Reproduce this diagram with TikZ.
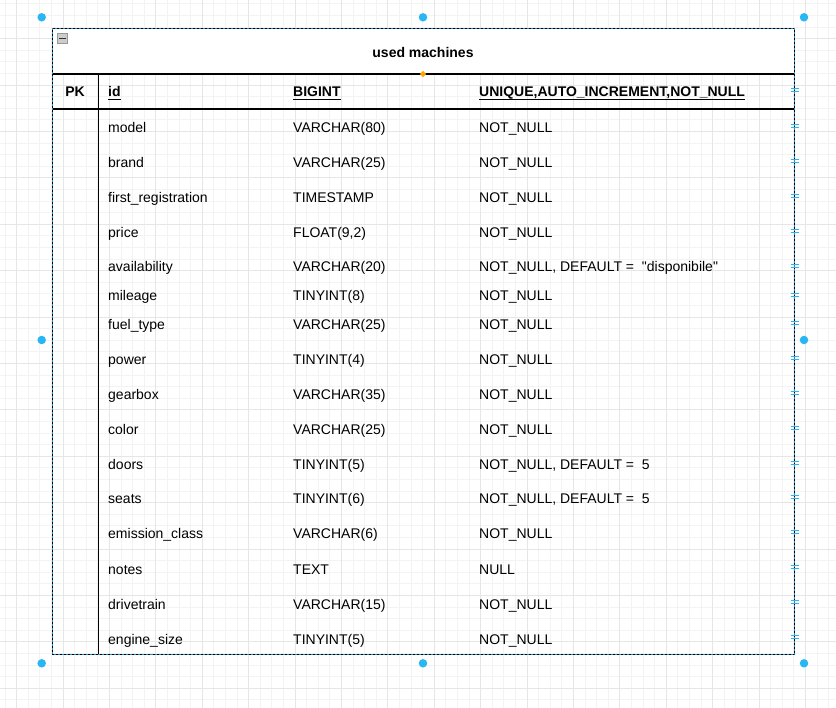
\documentclass[tikz,border=0pt]{standalone}
\usepackage{fontspec}
\setmainfont{Liberation Sans}
\definecolor{gridlo}{HTML}{F3F3F3}
\definecolor{gridhi}{HTML}{E6E6E6}
\definecolor{handleblue}{HTML}{29B6F2}
\definecolor{selblue}{HTML}{2A8FC8}
\definecolor{pinorange}{HTML}{FFA500}
\begin{document}
\begin{tikzpicture}[x=1pt,y=-1pt,
  gridminor/.style={draw=gridlo,line width=1pt},
  gridmajor/.style={draw=gridhi,line width=1pt},
  rule/.style={draw=black,line width=1.3pt},
  cell/.style={anchor=west,inner sep=0pt,text height=12pt,text depth=0pt,
    font=\fontsize{14}{16}\selectfont},
  headcell/.style={cell,font=\fontsize{14}{16}\selectfont\bfseries},
  ulline/.style={draw=black,line width=1.3pt},
  handlept/.style={circle,fill=handleblue,draw=none,inner sep=0pt,minimum size=8.5pt},
  rowmark/.style={draw=handleblue,line width=1pt}]
\useasboundingbox (0,0) rectangle (836,708);
\fill[white] (0,0) rectangle (836,708);

% background grid
\foreach \i in {0,...,71} {
  \pgfmathsetmacro\gx{5.1+11.6*\i}
  \draw[gridminor] (\gx,0) -- (\gx,708);
}
\foreach \j in {0,...,60} {
  \pgfmathsetmacro\gy{3.9+11.6*\j}
  \draw[gridminor] (0,\gy) -- (836,\gy);
}
\foreach \k in {0,...,17} {
  \pgfmathsetmacro\gx{16.7+46.4*\k}
  \draw[gridmajor] (\gx,0) -- (\gx,708);
}
\foreach \k in {0,...,14} {
  \pgfmathsetmacro\gy{38.7+46.4*\k}
  \draw[gridmajor] (0,\gy) -- (836,\gy);
}

% table outline corners
\coordinate (tl) at (52.5,28.5);
\coordinate (tr) at (794.5,28.5);
\coordinate (bl) at (52.5,654.5);
\coordinate (br) at (794.5,654.5);
\coordinate (hl) at (52.5,74);
\coordinate (hr) at (794.5,74);
\coordinate (rl) at (52.5,109);
\coordinate (rr) at (794.5,109);
\coordinate (vt) at (98.7,74);
\coordinate (vb) at (98.7,654.5);

% title band
\fill[white] (tl) rectangle (hr);

% collapse icon
\node[draw=gray!80,fill=gray!40,line width=1pt,minimum size=10.5pt,inner sep=0pt] (collapse) at (62.3,38.5) {};
\draw[black!80,line width=1.4pt] ([xshift=2.3pt]collapse.west) -- ([xshift=-2.3pt]collapse.east);

% title
\node[cell,anchor=center,font=\fontsize{14}{16}\selectfont\bfseries] (title) at (423,51.3) {used machines};

% separators
\draw[rule] (hl) -- (hr);
\draw[rule] (rl) -- (rr);
\draw[rule] (vt) -- (vb);

% key row
\node[headcell,anchor=center] (pk) at (75,91) {PK};
\node[headcell] (hid) at (108,91) {id};
\node[headcell] (htype) at (293,91) {BIGINT};
\node[headcell] (hcons) at (479,91) {UNIQUE,AUTO\_INCREMENT,NOT\_NULL};
\foreach \h in {hid,htype,hcons}
  \draw[ulline] ([yshift=-2.5pt]\h.south west) -- ([yshift=-2.5pt]\h.south east);

% field rows
\foreach \fname/\ftype/\fcons/\fy [count=\n] in {
  model/VARCHAR(80)/NOT\_NULL/127,
  brand/VARCHAR(25)/NOT\_NULL/162,
  first\_registration/TIMESTAMP/NOT\_NULL/197,
  price/{FLOAT(9,2)}/NOT\_NULL/232,
  availability/VARCHAR(20)/{NOT\_NULL, DEFAULT =\ \ \textquotedbl disponibile\textquotedbl}/266,
  mileage/TINYINT(8)/NOT\_NULL/295,
  fuel\_type/VARCHAR(25)/NOT\_NULL/324,
  power/TINYINT(4)/NOT\_NULL/359,
  gearbox/VARCHAR(35)/NOT\_NULL/394,
  color/VARCHAR(25)/NOT\_NULL/429,
  doors/TINYINT(5)/{NOT\_NULL, DEFAULT =\ \ 5}/464,
  seats/TINYINT(6)/{NOT\_NULL, DEFAULT =\ \ 5}/498,
  emission\_class/VARCHAR(6)/NOT\_NULL/533,
  notes/TEXT/NULL/568,
  drivetrain/VARCHAR(15)/NOT\_NULL/603,
  engine\_size/TINYINT(5)/NOT\_NULL/638} {
  \node[cell] (fn\n) at (108,\fy) {\fname};
  \node[cell] (ft\n) at (293,\fy) {\ftype};
  \node[cell] (fc\n) at (479,\fy) {\fcons};
}

% outer border (selected: black with blue dashes)
\draw[black,line width=1.3pt] (tl) rectangle (br);
\draw[selblue,line width=1.3pt,dash pattern=on 2pt off 2pt] (tl) rectangle (br);

% row markers on the right edge
\foreach \my in {90,126,161,196,231,266,295,323,358,393,428,463,497,532,567,602,637} {
  \draw[rowmark] (790.5,\my-1.5) -- (799,\my-1.5);
  \draw[rowmark] (790.5,\my+1.5) -- (799,\my+1.5);
}

% selection handles
\node[handlept] (h1) at (41.7,17.3) {};
\node[handlept] (h2) at (423,17.3) {};
\node[handlept] (h3) at (804,17.3) {};
\node[handlept] (h4) at (41.7,340) {};
\node[handlept] (h5) at (804,340) {};
\node[handlept] (h6) at (41.7,663.3) {};
\node[handlept] (h7) at (423,663.3) {};
\node[handlept] (h8) at (804,663.3) {};

% connection pin
\fill[pinorange] (423,70.8) -- (426.2,74) -- (423,77.2) -- (419.8,74) -- cycle;
\end{tikzpicture}
\end{document}
